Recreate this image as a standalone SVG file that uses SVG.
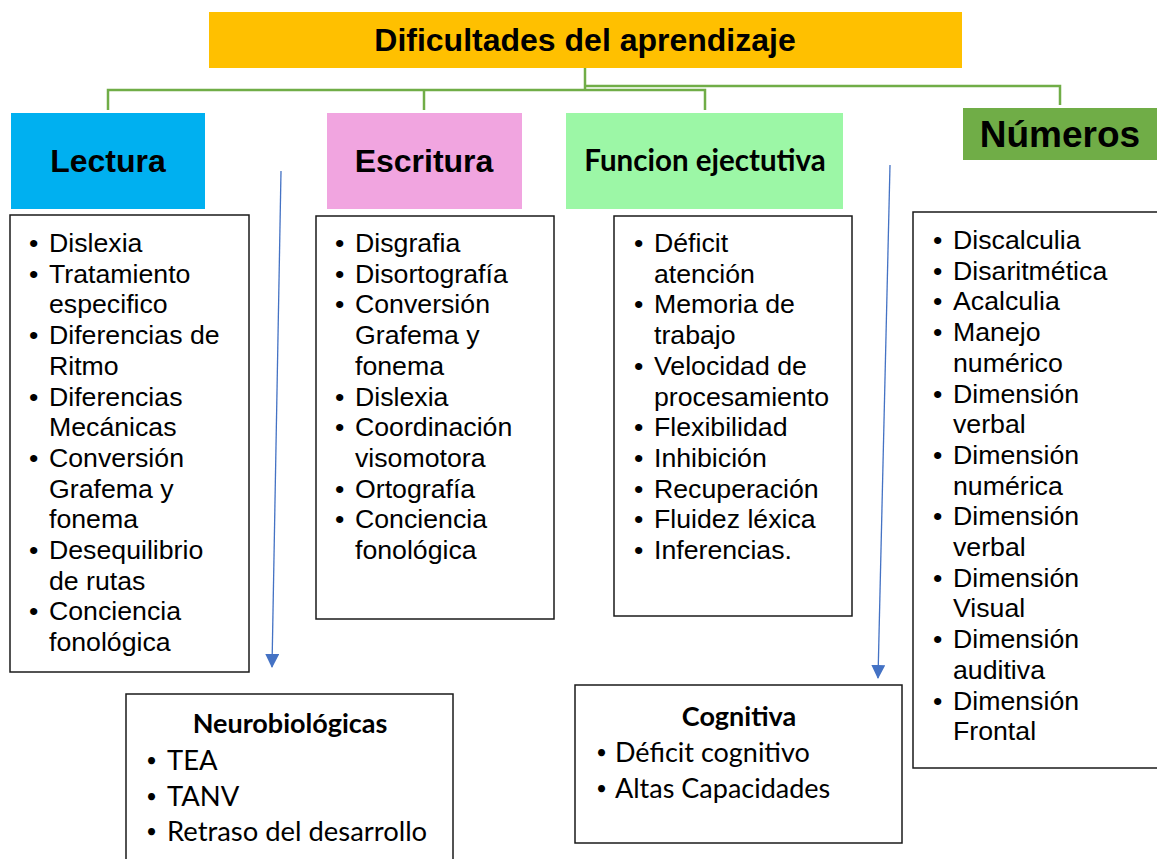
<svg xmlns="http://www.w3.org/2000/svg" width="1157" height="859" viewBox="0 0 1157 859">
<defs>
<style>
.hdr{font-family:"Liberation Sans",Arial,sans-serif;font-weight:bold;fill:#000;text-anchor:middle}
.lst{font-family:"Liberation Sans",Arial,sans-serif;font-size:26.7px;fill:#000}
.cal{font-family:Lato,"Open Sans",sans-serif;fill:#000}
.bul{font-family:Lato,"Open Sans",sans-serif;font-size:19px;fill:#000}
.box{fill:#fff;stroke:#1a1a1a;stroke-width:1.5}
.conn{fill:none;stroke:#70AD47;stroke-width:2.5}
.arr{fill:none;stroke:#4472C4;stroke-width:1.3}
</style>
<marker id="ah" markerWidth="16" markerHeight="16" refX="13" refY="7" orient="auto" markerUnits="userSpaceOnUse">
<path d="M0,0 L14,7 L0,14 Z" fill="#4472C4"/>
</marker>
</defs>
<rect width="1157" height="859" fill="#fff"/>

<g id="connectors">
<polyline class="conn" points="585,68 585,90"/>
<polyline class="conn" points="108,110 108,90 705,90 705,110"/>
<polyline class="conn" points="424,90 424,110"/>
<polyline class="conn" points="585,86 1060,86 1060,105"/>
<line class="arr" x1="281" y1="171" x2="272" y2="667" marker-end="url(#ah)"/>
<line class="arr" x1="890" y1="165" x2="878" y2="678" marker-end="url(#ah)"/>
</g>

<g id="title">
<rect x="209" y="12" width="753" height="56" fill="#FFC000"/>
<text class="hdr" x="585" y="51" font-size="32">Dificultades del aprendizaje</text>
</g>

<g id="lectura">
<rect x="11" y="113" width="194" height="96" fill="#00B0F0"/>
<text class="hdr" x="108" y="172" font-size="32">Lectura</text>
</g>

<g id="escritura">
<rect x="327" y="113" width="195" height="96" fill="#F1A5E0"/>
<text class="hdr" x="424" y="172" font-size="32">Escritura</text>
</g>

<g id="funcion">
<rect x="566" y="113" width="277" height="96" fill="#9CF7A6"/>
<text class="cal" x="705" y="171" font-size="29.5" font-weight="bold" text-anchor="middle">Funcion ejectutiva</text>
</g>

<g id="numeros">
<rect x="963" y="108" width="194" height="52" fill="#70AD47"/>
<text class="hdr" x="1060" y="147" font-size="37">Números</text>
</g>

<g id="lectura-list">
<rect class="box" x="10" y="215" width="239" height="457"/>
<text class="lst">
<tspan x="29" y="252">•</tspan>
<tspan x="29" y="282.7">•</tspan>
<tspan x="29" y="344.1">•</tspan>
<tspan x="29" y="405.5">•</tspan>
<tspan x="29" y="466.9">•</tspan>
<tspan x="29" y="559">•</tspan>
<tspan x="29" y="620.4">•</tspan>
</text>
<text class="lst">
<tspan x="49" y="252">Dislexia</tspan>
<tspan x="49" y="282.7">Tratamiento</tspan>
<tspan x="49" y="313.4">especifico</tspan>
<tspan x="49" y="344.1">Diferencias de</tspan>
<tspan x="49" y="374.8">Ritmo</tspan>
<tspan x="49" y="405.5">Diferencias</tspan>
<tspan x="49" y="436.2">Mecánicas</tspan>
<tspan x="49" y="466.9">Conversión</tspan>
<tspan x="49" y="497.6">Grafema y</tspan>
<tspan x="49" y="528.3">fonema</tspan>
<tspan x="49" y="559">Desequilibrio</tspan>
<tspan x="49" y="589.7">de rutas</tspan>
<tspan x="49" y="620.4">Conciencia</tspan>
<tspan x="49" y="651.1">fonológica</tspan>
</text>
</g>

<g id="escritura-list">
<rect class="box" x="316" y="216" width="238" height="403"/>
<text class="lst">
<tspan x="335" y="252">•</tspan>
<tspan x="335" y="282.7">•</tspan>
<tspan x="335" y="313.4">•</tspan>
<tspan x="335" y="405.5">•</tspan>
<tspan x="335" y="436.2">•</tspan>
<tspan x="335" y="497.6">•</tspan>
<tspan x="335" y="528.3">•</tspan>
</text>
<text class="lst">
<tspan x="355" y="252">Disgrafia</tspan>
<tspan x="355" y="282.7">Disortografía</tspan>
<tspan x="355" y="313.4">Conversión</tspan>
<tspan x="355" y="344.1">Grafema y</tspan>
<tspan x="355" y="374.8">fonema</tspan>
<tspan x="355" y="405.5">Dislexia</tspan>
<tspan x="355" y="436.2">Coordinación</tspan>
<tspan x="355" y="466.9">visomotora</tspan>
<tspan x="355" y="497.6">Ortografía</tspan>
<tspan x="355" y="528.3">Conciencia</tspan>
<tspan x="355" y="559">fonológica</tspan>
</text>
</g>

<g id="funcion-list">
<rect class="box" x="614" y="216" width="238" height="400"/>
<text class="lst">
<tspan x="634" y="252">•</tspan>
<tspan x="634" y="313.4">•</tspan>
<tspan x="634" y="374.8">•</tspan>
<tspan x="634" y="436.2">•</tspan>
<tspan x="634" y="466.9">•</tspan>
<tspan x="634" y="497.6">•</tspan>
<tspan x="634" y="528.3">•</tspan>
<tspan x="634" y="559">•</tspan>
</text>
<text class="lst">
<tspan x="654" y="252">Déficit</tspan>
<tspan x="654" y="282.7">atención</tspan>
<tspan x="654" y="313.4">Memoria de</tspan>
<tspan x="654" y="344.1">trabajo</tspan>
<tspan x="654" y="374.8">Velocidad de</tspan>
<tspan x="654" y="405.5">procesamiento</tspan>
<tspan x="654" y="436.2">Flexibilidad</tspan>
<tspan x="654" y="466.9">Inhibición</tspan>
<tspan x="654" y="497.6">Recuperación</tspan>
<tspan x="654" y="528.3">Fluidez léxica</tspan>
<tspan x="654" y="559">Inferencias.</tspan>
</text>
</g>

<g id="numeros-list">
<rect class="box" x="913" y="212" width="250" height="556"/>
<text class="lst">
<tspan x="933" y="249">•</tspan>
<tspan x="933" y="279.7">•</tspan>
<tspan x="933" y="310.4">•</tspan>
<tspan x="933" y="341.1">•</tspan>
<tspan x="933" y="402.5">•</tspan>
<tspan x="933" y="463.9">•</tspan>
<tspan x="933" y="525.3">•</tspan>
<tspan x="933" y="586.7">•</tspan>
<tspan x="933" y="648.1">•</tspan>
<tspan x="933" y="709.5">•</tspan>
</text>
<text class="lst">
<tspan x="953" y="249">Discalculia</tspan>
<tspan x="953" y="279.7">Disaritmética</tspan>
<tspan x="953" y="310.4">Acalculia</tspan>
<tspan x="953" y="341.1">Manejo</tspan>
<tspan x="953" y="371.8">numérico</tspan>
<tspan x="953" y="402.5">Dimensión</tspan>
<tspan x="953" y="433.2">verbal</tspan>
<tspan x="953" y="463.9">Dimensión</tspan>
<tspan x="953" y="494.6">numérica</tspan>
<tspan x="953" y="525.3">Dimensión</tspan>
<tspan x="953" y="556">verbal</tspan>
<tspan x="953" y="586.7">Dimensión</tspan>
<tspan x="953" y="617.4">Visual</tspan>
<tspan x="953" y="648.1">Dimensión</tspan>
<tspan x="953" y="678.8">auditiva</tspan>
<tspan x="953" y="709.5">Dimensión</tspan>
<tspan x="953" y="740.2">Frontal</tspan>
</text>
</g>

<g id="neurobiologicas">
<rect class="box" x="126" y="694" width="327" height="175"/>
<text class="cal" x="290" y="733" font-size="27" font-weight="bold" text-anchor="middle">Neurobiológicas</text>
<text class="bul">
<tspan x="146" y="767">•</tspan>
<tspan x="146" y="803">•</tspan>
<tspan x="146" y="838">•</tspan>
</text>
<text class="cal" font-size="27.4">
<tspan x="167" y="770">TEA</tspan>
<tspan x="167" y="806">TANV</tspan>
<tspan x="167" y="841">Retraso del desarrollo</tspan>
</text>
</g>

<g id="cognitiva">
<rect class="box" x="575" y="685" width="327" height="158"/>
<text class="cal" x="739" y="726" font-size="27" font-weight="bold" text-anchor="middle">Cognitiva</text>
<text class="bul">
<tspan x="596" y="759">•</tspan>
<tspan x="596" y="795">•</tspan>
</text>
<text class="cal" font-size="27">
<tspan x="615" y="762">Déficit cognitivo</tspan>
<tspan x="615" y="798">Altas Capacidades</tspan>
</text>
</g>
</svg>
